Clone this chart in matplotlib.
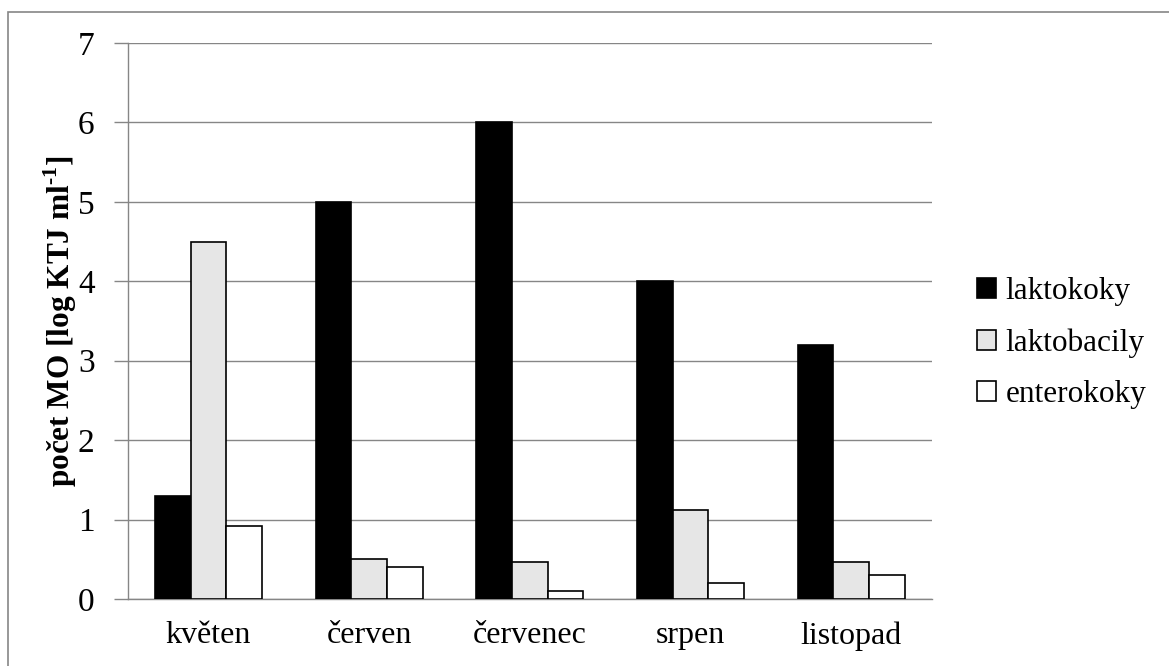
import matplotlib
matplotlib.use('Agg')
import matplotlib.pyplot as plt
from matplotlib.patches import Rectangle
import numpy as np

months = ['květen', 'červen', 'červenec', 'srpen', 'listopad']
series_names = ['laktokoky', 'laktobacily', 'enterokoky']
laktokoky = [1.3, 5.0, 6.0, 4.0, 3.2]
laktobacily = [4.5, 0.5, 0.47, 1.12, 0.46]
enterokoky = [0.92, 0.4, 0.1, 0.2, 0.3]
values = [laktokoky, laktobacily, enterokoky]
fills = ['#000000', '#e6e6e6', '#ffffff']

plt.rcParams['font.family'] = ['Liberation Serif', 'DejaVu Serif']
plt.rcParams['mathtext.fontset'] = 'custom'
plt.rcParams['mathtext.rm'] = 'Liberation Serif:bold'
plt.rcParams['mathtext.bf'] = 'Liberation Serif:bold'

fig = plt.figure(figsize=(11.69, 6.66), dpi=100)
ax = fig.add_axes([0.1095, 0.1006, 0.6875, 0.8348])

# outer chart border (runs off the right and bottom edges)
fig.patches.append(Rectangle((0.0065, -0.1), 1.2, 1.082, transform=fig.transFigure,
                             fill=False, edgecolor='#868686', linewidth=1.2))

x = np.arange(len(months))
width = 1 / 4.5
for i, (vals, name, fc) in enumerate(zip(values, series_names, fills)):
    ax.bar(x + (i - 1) * width, vals, width, color=fc, edgecolor='black',
           linewidth=1.2, label=name, zorder=3)

ax.set_xlim(-0.5, len(months) - 0.5)
ax.set_ylim(0, 7)
ax.set_yticks(range(0, 8))
ax.set_xticks(x)
ax.set_xticklabels(months, fontsize=23)
ax.tick_params(axis='y', labelsize=24, length=10, color='#868686', width=1, pad=14)
ax.tick_params(axis='x', length=0, pad=16)
ax.grid(True, axis='y', color='#868686', linewidth=1, zorder=0)
for side in ['top', 'right']:
    ax.spines[side].set_visible(False)
for side in ['left', 'bottom']:
    ax.spines[side].set_color('#868686')
    ax.spines[side].set_linewidth(1)

ax.set_ylabel('počet MO [log KTJ ml$^{\\text{-1}}$]', fontsize=22.5, fontweight='bold', labelpad=-1)

fig.legend(loc='center left', bbox_to_anchor=(0.812, 0.485), frameon=False,
           fontsize=22.5, handlelength=0.6, handleheight=0.6, handletextpad=0.3,
           labelspacing=0.72)

fig.savefig('out.png', dpi=100)
